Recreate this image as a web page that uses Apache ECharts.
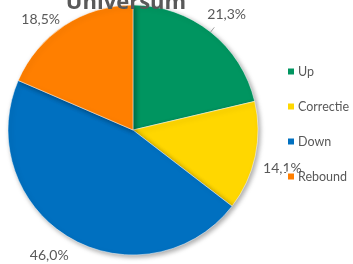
<!DOCTYPE html>
<html>
<head>
<meta charset="UTF-8">
<script type="text/javascript" src="https://cdn.jsdelivr.net/npm/echarts@6/dist/echarts.min.js"></script>
<style>
  html, body { margin: 0; padding: 0; background: #fff; }
</style>
</head>
<body>
<div id="chartmain" style="width:353px; height:264px;"></div>
<script type="text/javascript">
	var categories = ['Up', 'Correctie', 'Down', 'Rebound'];
	var values = [21.3, 14.1, 46.0, 18.5];
	var colors = ['#009560', '#FFD700', '#0070C0', '#FF7F00'];

	// nudges so the labels sit like the excel original
	var labelShift = [[-12, -13], [-3, 11], [7, 13], [4, -1]];

	var pieData = [];
	for (var i = 0; i < categories.length; i++) {
		pieData.push({
			name: categories[i],
			value: values[i],
			labelLine: { show: i === 0 }
		});
	}

	var option = {
		color: colors,
		title: {
			text: 'Universum',
			left: 121,
			top: -13,
			textAlign: 'center',
			textStyle: { fontFamily: 'Open Sans', fontSize: 22, fontWeight: 'bold', color: '#595959' }
		},
		legend: {
			orient: 'vertical',
			left: 286,
			top: 65,
			padding: 0,
			itemGap: 22,
			itemWidth: 8,
			itemHeight: 8,
			icon: 'rect',
			data: categories,
			textStyle: { fontFamily: 'Lato', fontSize: 12.5, color: '#595959', padding: [0, 0, 0, -2] }
		},
		series: [
			{
				type: 'pie',
				center: [133, 130],
				radius: [0, 125],
				startAngle: 90,
				clockwise: true,
				animation: false,
				data: pieData,
				itemStyle: {
					borderColor: '#fff',
					borderWidth: 0.5,
					shadowBlur: 5,
					shadowOffsetX: 2,
					shadowOffsetY: 2,
					shadowColor: 'rgba(0,0,0,0.35)'
				},
				label: {
					show: true,
					position: 'outside',
					fontFamily: 'Lato',
					fontSize: 14,
					color: '#595959',
					formatter: function (p) {
						return p.value.toFixed(1).replace('.', ',') + '%';
					}
				},
				labelLine: {
					length: 6,
					length2: 0,
					lineStyle: { color: '#a6a6a6', width: 1 }
				},
				labelLayout: function (p) {
					var s = labelShift[p.dataIndex];
					return { dx: s[0], dy: s[1] };
				}
			}
		]
	};

	var myChart = echarts.init(document.getElementById('chartmain'));
	myChart.setOption(option);
</script>
</body>
</html>
